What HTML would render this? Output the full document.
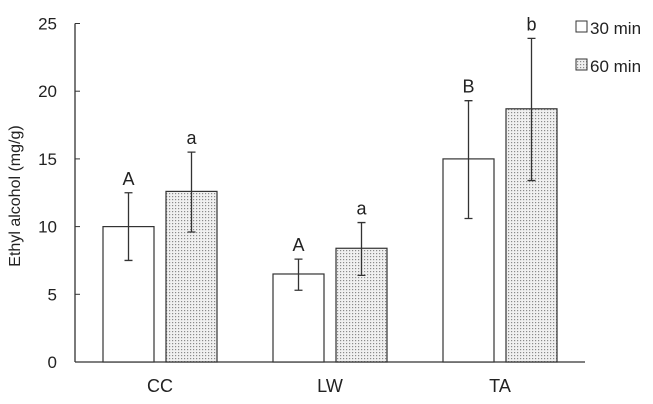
<!DOCTYPE html>
<html><head><meta charset="utf-8"><style>
body{margin:0;background:#fff}
svg{display:block;font-family:"Liberation Sans",Arial,sans-serif}
</style></head><body>
<svg width="653" height="404" viewBox="0 0 653 404">
<defs>
<pattern id="dots" width="3" height="3" patternUnits="userSpaceOnUse">
<rect width="3" height="3" fill="#f0f0f0"/><rect x="1" y="1" width="1.2" height="1.2" fill="#8a8a8a"/>
</pattern>
</defs>
<g id="axes"></g>
<g id="marks"></g>
<g>
<rect x="576" y="21" width="11" height="11" fill="#fff" stroke="#333"/>
<text x="590" y="34" font-size="17" fill="#222">30 min</text>
<rect x="576" y="59" width="11" height="11" fill="url(#dots)" stroke="#333"/>
<text x="590" y="72" font-size="17" fill="#222">60 min</text>
</g>
<text transform="translate(20,196) rotate(-90)" text-anchor="middle" font-size="16" fill="#222">Ethyl alcohol (mg/g)</text>
</svg>
<script>
const categories=["CC","LW","TA"];
const mean30=[10.0,6.5,15.0];
const low30=[7.5,5.3,10.6];
const high30=[12.5,7.6,19.3];
const mean60=[12.6,8.4,18.7];
const low60=[9.6,6.4,13.4];
const high60=[15.5,10.3,23.9];
const letters30=["A","A","B"];
const letters60=["a","a","b"];
const yTicks=[0,5,10,15,20,25];
const NS="http://www.w3.org/2000/svg";
const x0=75,x1=585,yBase=362,yTop=23.5,yMax=25;
const y=v=>yBase-(v/yMax)*(yBase-yTop);
const band=(x1-x0)/categories.length;
const cx=i=>x0+band*(i+0.5);
function mk(tag,attrs,parent){const e=document.createElementNS(NS,tag);for(const k in attrs)e.setAttribute(k,attrs[k]);parent.appendChild(e);return e;}
const axes=document.getElementById('axes'),marks=document.getElementById('marks');
let e=mk('line',{x1:x0,y1:yTop,x2:x0,y2:yBase,stroke:'#333','stroke-width':1.3},axes);


e=mk('line',{x1:x0,y1:yBase,x2:x1,y2:yBase,stroke:'#333','stroke-width':1.3},axes);


yTicks.forEach(t=>{
 let l=mk('line',{x1:x0,x2:x0+5,y1:y(t),y2:y(t),stroke:'#333'},axes);
 
 
 let tx=mk('text',{x:57,y:y(t)+6,'text-anchor':'end','font-size':17,fill:'#222'},axes);
 tx.textContent=t;
 
 
});
const bw=51,gap=12;
categories.forEach((c,i)=>{
 let tx=mk('text',{x:cx(i),y:392,'text-anchor':'middle','font-size':18,fill:'#222'},axes);
 tx.textContent=c;
 
 
 [[mean30,low30,high30,letters30,'#fff',-1],[mean60,low60,high60,letters60,'url(#dots)',1]].forEach(s=>{
  const xl=s[5]<0?cx(i)-gap/2-bw:cx(i)+gap/2;
  const xm=xl+bw/2;
  let r=mk('rect',{x:xl,y:y(s[0][i]),width:bw,height:yBase-y(s[0][i]),fill:s[4],stroke:'#333','stroke-width':1.2},marks);
  
  
  let eb=mk('path',{d:`M${xm},${y(s[1][i])}V${y(s[2][i])}M${xm-4},${y(s[1][i])}H${xm+4}M${xm-4},${y(s[2][i])}H${xm+4}`,stroke:'#333','stroke-width':1.3,fill:'none'},marks);
  
  
  let lt=mk('text',{x:xm,y:y(s[2][i])-8,'text-anchor':'middle','font-size':18,fill:'#222'},marks);
  lt.textContent=s[3][i];
  
  
 });
});
</script>
</body></html>
